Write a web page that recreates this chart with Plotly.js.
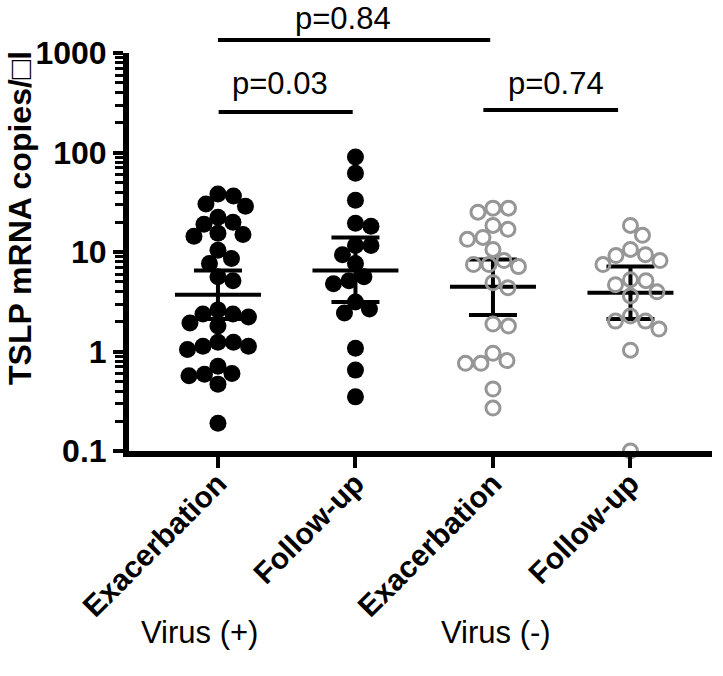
<!DOCTYPE html>
<html><head><meta charset="utf-8">
<script src="https://cdn.plot.ly/plotly-3.0.1.min.js"></script>
<style>body{margin:0;background:#fff}#chart{width:723px;height:676px}</style>
</head><body><div id="chart"></div>
<script>
// ---------- data ----------
const categories = ['Exacerbation', 'Follow-up', 'Exacerbation', 'Follow-up'];
const groupLabels = ['Virus (+)', 'Virus (-)'];
const yTickVals = [0.1, 1, 10, 100, 1000];
const yTickText = ['0.1', '1', '10', '100', '1000'];

const virusPosExac = [38.2, 36.5, 30.3, 28.9, 22.3, 19.0, 19.9, 15.4, 14.4, 15.0, 10.4, 7.65, 8.6, 5.15, 5.65, 2.62, 1.93, 2.38, 2.22, 2.38, 1.80, 1.24, 1.13, 1.05, 1.13, 1.24, 0.60, 0.57, 0.47, 0.59, 0.71, 0.19];
const virusPosFU = [90.0, 62.0, 33.2, 19.4, 18.1, 11.6, 11.6, 9.4, 7.65, 5.65, 5.15, 4.8, 3.15, 2.68, 2.44, 1.08, 0.65, 0.35];
const virusNegExac = [25.1, 27.6, 27.6, 16.9, 18.5, 14.0, 13.4, 10.6, 7.47, 7.47, 8.2, 7.13, 4.91, 4.37, 1.80, 1.89, 0.96, 0.76, 0.76, 0.81, 0.42, 0.27];
const virusNegFU = [18.5, 14.7, 10.6, 9.2, 7.47, 8.2, 9.4, 5.15, 3.98, 3.62, 4.69, 5.27, 2.28, 1.68, 2.02, 2.02, 1.03, 0.10];

const groupMeans = [3.71, 6.5, 4.48, 3.89];
const groupUpper = [6.5, 14.0, 8.4, 7.13];
const groupLower = [2.12, 3.15, 2.33, 2.12];

const pLabels = ['p=0.03', 'p=0.84', 'p=0.74'];
const pFrom = [0, 0, 2];
const pTo = [1, 2, 3];

// ---------- layout geometry ----------
const W = 723, H = 676;
const M = {l: 129, r: 11, t: 53, b: 225};
const xRange = [-0.647, 3.593];
const yRange = [-1, 3];
const PW = W - M.l - M.r, PH = H - M.t - M.b;
const pxPerX = PW / (xRange[1] - xRange[0]);
const pxPerDecade = PH / (yRange[1] - yRange[0]);

function swarm(vals, dPx) {
  const ys = vals.map(v => Math.log10(v) * pxPerDecade);
  const order = vals.map((v, i) => i).sort((a, b) => vals[b] - vals[a]);
  const placed = [];
  const off = new Array(vals.length).fill(0);
  for (const i of order) {
    let best = null;
    for (let k = 0; k < 400 && best === null; k++) {
      const cands = k === 0 ? [0] : [k * 0.5, -k * 0.5];
      for (const c of cands) {
        if (placed.every(p => (p.x - c) ** 2 + (p.y - ys[i]) ** 2 >= dPx * dPx)) { best = c; break; }
      }
    }
    off[i] = best / pxPerX;
    placed.push({x: best, y: ys[i]});
  }
  return off;
}

const groups = [virusPosExac, virusPosFU, virusNegExac, virusNegFU];
const traces = [];
const meanHalf = 43 / pxPerX;

// mean lines + error bars (drawn first)
groupMeans.forEach((m, i) => {
  traces.push({x: [i - meanHalf, i + meanHalf], y: [m, m], mode: 'lines', type: 'scatter',
    line: {color: 'black', width: 4}, hoverinfo: 'skip', showlegend: false, cliponaxis: false});
});
traces.push({
  x: [0, 1, 2, 3], y: groupMeans, type: 'scatter', mode: 'markers',
  marker: {size: 1, color: 'rgba(0,0,0,0)'}, showlegend: false,
  error_y: {type: 'data', symmetric: false,
    array: groupUpper.map((u, i) => u - groupMeans[i]),
    arrayminus: groupLower.map((l, i) => groupMeans[i] - l),
    width: 24, thickness: 4, color: 'black'}
});

groups.forEach((vals, gi) => {
  const open = gi >= 2;
  const off = swarm(vals, 15.5);
  traces.push({
    x: vals.map((v, j) => gi + off[j]), y: vals, type: 'scatter', mode: 'markers',
    cliponaxis: false, showlegend: false,
    marker: open
      ? {symbol: 'circle-open', size: 14, color: '#969696', line: {width: 3, color: '#969696'}}
      : {symbol: 'circle', size: 17, color: 'black'}
  });
});

// ---------- annotations & shapes ----------
const toPaperY = py => (H - M.b - py) / PH;
const toPaperX = px => (px - M.l) / PW;
const pLineY = [112, 40, 110].map(toPaperY);
const pTextY = [83, 18, 83].map(toPaperY);
const pLineAdj = [[0.005, -0.02], [0, -0.02], [-0.07, -0.09]];
const pTextX = [0.45, 0.907, 2.455];

const shapes = pLabels.map((t, i) => ({
  type: 'line', xref: 'x', yref: 'paper',
  x0: pFrom[i] + pLineAdj[i][0], x1: pTo[i] + pLineAdj[i][1], y0: pLineY[i], y1: pLineY[i],
  line: {color: 'black', width: 4}
}));

const annotations = pLabels.map((t, i) => ({
  text: t, xref: 'x', yref: 'paper', x: pTextX[i], y: pTextY[i], showarrow: false,
  font: {family: 'Liberation Sans, Arial', size: 31, color: 'black'}, xanchor: 'center', yanchor: 'middle'
}));
const groupX = [toPaperX(199), toPaperX(496)];
groupLabels.forEach((g, i) => annotations.push({
  text: g, xref: 'paper', yref: 'paper', x: groupX[i], y: toPaperY(632), showarrow: false,
  font: {family: 'Liberation Sans, Arial', size: 31, color: 'black'}, xanchor: 'center', yanchor: 'middle'
}));
annotations.push({
  text: 'TSLP mRNA copies/□l', xref: 'paper', yref: 'paper', x: toPaperX(20),
  y: toPaperY(218), textangle: -90, showarrow: false,
  font: {family: 'Liberation Sans, Arial', size: 32, color: 'black', weight: 'bold'},
  xanchor: 'center', yanchor: 'middle'
});

const minorVals = [];
for (let e = -1; e < 3; e++) for (let k = 2; k <= 9; k++) minorVals.push(k * Math.pow(10, e));

const layout = {
  width: W, height: H, margin: M, paper_bgcolor: 'white', plot_bgcolor: 'white',
  showlegend: false,
  xaxis: {range: xRange, tickvals: [0, 1, 2, 3], ticktext: categories, tickangle: -45,
    showgrid: false, zeroline: false, showline: true, linewidth: 6, linecolor: 'black',
    ticks: 'outside', ticklen: 11, tickwidth: 4, tickcolor: 'black', ticklabelstandoff: -14,
    tickfont: {family: 'Liberation Sans, Arial', size: 30, color: 'black', weight: 'bold'}},
  yaxis: {type: 'log', range: yRange, tickvals: yTickVals, ticktext: yTickText,
    showgrid: false, zeroline: false, showline: true, linewidth: 6, linecolor: 'black',
    ticks: 'outside', ticklen: 10, tickwidth: 4, tickcolor: 'black', ticklabelstandoff: 0,
    minor: {tickvals: minorVals, ticks: 'outside', ticklen: 8, tickwidth: 3, tickcolor: 'black', showgrid: false},
    tickfont: {family: 'Liberation Sans, Arial', size: 32, color: 'black', weight: 'bold'}},
  shapes: shapes, annotations: annotations
};

Plotly.newPlot('chart', traces, layout, {displayModeBar: false, staticPlot: true});
</script>
</body></html>
